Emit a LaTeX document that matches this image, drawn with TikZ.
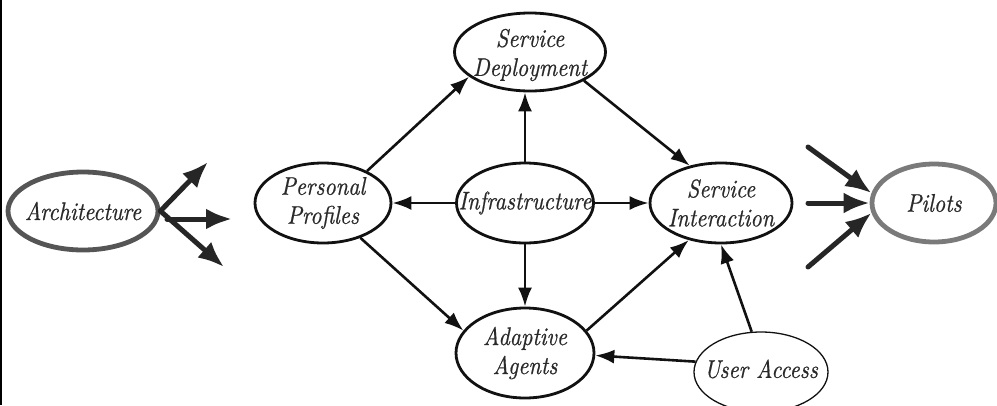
\documentclass[tikz,border=0pt]{standalone}
\usepackage{fontspec}
\newfontfamily\tnrfont{lmroman10-italic}[Extension=.otf, FakeStretch=0.87, FakeBold=0.6]
\usetikzlibrary{shapes.geometric,arrows.meta}
\definecolor{ink}{HTML}{111111}
\definecolor{textc}{HTML}{2A2A2A}
\definecolor{bigc}{HTML}{262626}
\definecolor{archc}{HTML}{555555}
\definecolor{pilc}{HTML}{7A7A7A}
\tikzset{
  ell/.style={ellipse, draw=ink, line width=2.8pt, fill=white, inner sep=0pt},
  thinell/.style={ellipse, draw=ink, line width=1.3pt, fill=white, inner sep=0pt},
  gell/.style={ellipse, line width=4.8pt, fill=white, inner sep=0pt},
  txt/.style={font=\tnrfont\fontsize{25.5}{29}\selectfont, text=textc, align=center, inner sep=0pt},
  con/.style={draw=ink, line width=2.6pt, -{Latex[length=19pt,width=14pt]}},
  bigarrow/.style={draw=bigc, line width=5pt, line cap=round, -{Latex[length=26pt,width=21pt]}}
}
\begin{document}
\begin{tikzpicture}[x=1pt,y=-1pt]
\useasboundingbox (0,0) rectangle (997,405);
\fill[white] (0,0) rectangle (997,405);
\draw[line width=2.5pt, black] (1,0) -- (1,405);

% nodes
\node[gell, draw=archc, minimum width=150pt, minimum height=78pt,
      label={[txt]center:Architecture}] (arch) at (83,211) {};
\node[gell, draw=pilc, minimum width=124pt, minimum height=78pt,
      label={[txt]center:Pilots}] (pil) at (934,203) {};
\node[ell, minimum width=151pt, minimum height=78pt,
      label={[txt, yshift=-3pt]center:Service\\Deployment}] (sd) at (530,52) {};
\node[ell, minimum width=136pt, minimum height=80pt,
      label={[txt]center:Personal\\Profiles}] (pp) at (323,203) {};
\node[ell, minimum width=137pt, minimum height=80pt,
      label={[txt]center:Infrastructure}] (inf) at (525,203) {};
\node[ell, minimum width=142pt, minimum height=80pt,
      label={[txt]center:Service\\Interaction}] (si) at (721,203) {};
\node[ell, minimum width=138pt, minimum height=90pt,
      label={[txt]center:Adaptive\\Agents}] (aa) at (525,353) {};
\node[thinell, minimum width=134pt, minimum height=80pt,
      label={[txt, yshift=3pt]center:User Access}] (ua) at (761,372) {};

% free ends of the big arrows
\coordinate (aUp) at (208,162);
\coordinate (aMidS) at (167,219);
\coordinate (aMidE) at (232,219);
\coordinate (aDn) at (224,267);
\coordinate (pUp) at (808,147);
\coordinate (pMid) at (808,203);
\coordinate (pDn) at (808,267);

% big arrows
\draw[bigarrow] (arch.east) -- (aUp);
\draw[bigarrow] (aMidS) -- (aMidE);
\draw[bigarrow] (arch.east) -- (aDn);
\draw[bigarrow] (pUp) -- (pil.171);
\draw[bigarrow] (pMid) -- (pil.west);
\draw[bigarrow] (pDn) -- (pil.189);

% connectors
\draw[con] (pp.36) -- (sd.202);
\draw[con] (inf.north) -- (inf.north |- sd.south);
\draw[con] (sd.332) -- (si.130);
\draw[con] (inf.west) -- (pp.east);
\draw[con] (inf.east) -- (si.west);
\draw[con] (inf.south) -- (aa.north);
\draw[con] (pp.317) -- (aa.160);
\draw[con] (aa.20) -- (si.229);
\draw[con] (ua.171) -- (aa.358);
\draw[con] (ua.103) -- (si.south);
\end{tikzpicture}
\end{document}
